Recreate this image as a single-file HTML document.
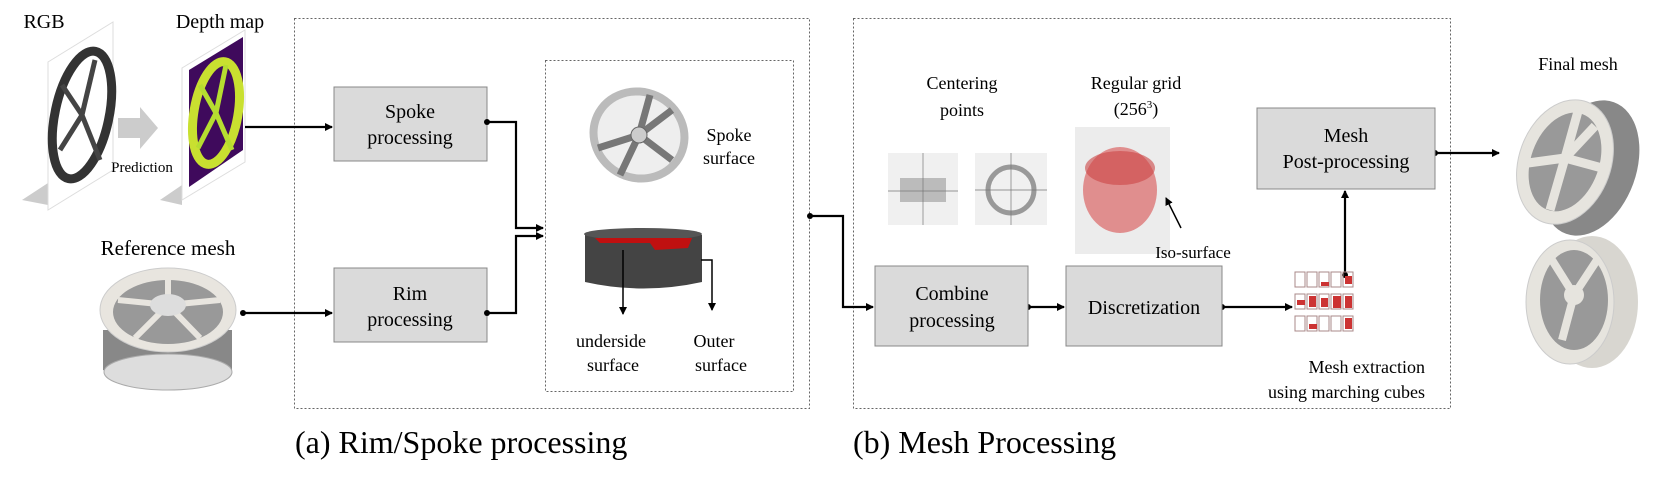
<!DOCTYPE html>
<html><head><meta charset="utf-8"><style>
html,body{margin:0;padding:0;background:#fff;}
svg{display:block;font-family:"Liberation Serif",serif;}
</style></head><body>
<svg width="1661" height="479" viewBox="0 0 1661 479" xmlns="http://www.w3.org/2000/svg">
<defs>
<marker id="ar" markerWidth="8" markerHeight="8" refX="7" refY="4" orient="auto" markerUnits="userSpaceOnUse"><path d="M0,0 L8,4 L0,8 z" fill="#000"/></marker>
</defs>
<!-- RGB panel -->
<text x="44" y="28" font-size="20" text-anchor="middle">RGB</text>
<polygon points="22,200 48,183 48,205" fill="#ccc"/>
<polygon points="48,62 113,22 113,170 48,210" fill="#fff" stroke="#ddd"/>
<ellipse cx="82" cy="115" rx="27" ry="65" fill="none" stroke="#333" stroke-width="9" transform="rotate(12 82 115)"/>
<g stroke="#444" stroke-width="5"><line x1="82" y1="115" x2="95" y2="60"/><line x1="82" y1="115" x2="60" y2="150"/><line x1="82" y1="115" x2="100" y2="160"/><line x1="82" y1="115" x2="62" y2="85"/></g>
<polygon points="118,118 140,118 140,107 158,128 140,149 140,138 118,138" fill="#ccc"/>
<text x="142" y="172" font-size="15" text-anchor="middle">Prediction</text>
<!-- depth panel -->
<text x="220" y="28" font-size="20" text-anchor="middle">Depth map</text>
<polygon points="160,200 182,185 182,205" fill="#ccc"/>
<polygon points="182,68 245,30 245,162 182,200" fill="#fff" stroke="#ddd"/>
<polygon points="189,70 243,37 243,150 189,187" fill="#3f0a5c"/>
<ellipse cx="216" cy="113" rx="22" ry="52" fill="none" stroke="#c9e030" stroke-width="9" transform="rotate(10 216 113)"/>
<g stroke="#b6dd30" stroke-width="5"><line x1="216" y1="113" x2="226" y2="65"/><line x1="216" y1="113" x2="198" y2="148"/><line x1="216" y1="113" x2="232" y2="150"/><line x1="216" y1="113" x2="200" y2="85"/></g>
<!-- reference mesh -->
<text x="168" y="255" font-size="21" text-anchor="middle">Reference mesh</text>
<path d="M103,330 L103,370 Q168,400 232,370 L232,330 z" fill="#888"/>
<ellipse cx="168" cy="372" rx="64" ry="18" fill="#ddd" stroke="#aaa"/>
<ellipse cx="168" cy="310" rx="68" ry="42" fill="#e8e5df" stroke="#ccc"/>
<ellipse cx="168" cy="312" rx="55" ry="32" fill="#999"/>
<g stroke="#e8e5df" stroke-width="6"><line x1="168" y1="305" x2="168" y2="275"/><line x1="168" y1="305" x2="220" y2="300"/><line x1="168" y1="305" x2="118" y2="300"/><line x1="168" y1="305" x2="200" y2="338"/><line x1="168" y1="305" x2="135" y2="338"/></g>
<ellipse cx="168" cy="305" rx="18" ry="11" fill="#ddd"/>
<!-- box a -->
<rect x="294.5" y="18.5" width="515" height="390" fill="none" stroke="#666" stroke-dasharray="2,2"/>
<rect x="545.5" y="60.5" width="248" height="331" fill="none" stroke="#666" stroke-dasharray="2,2"/>
<rect x="334" y="87" width="153" height="74" fill="#dadada" stroke="#888"/>
<text x="410" y="118" font-size="20" text-anchor="middle">Spoke</text>
<text x="410" y="144" font-size="20" text-anchor="middle">processing</text>
<rect x="334" y="268" width="153" height="74" fill="#dadada" stroke="#888"/>
<text x="410" y="300" font-size="20" text-anchor="middle">Rim</text>
<text x="410" y="326" font-size="20" text-anchor="middle">processing</text>
<g stroke="#000" stroke-width="2.2" fill="none">
<line x1="245" y1="127" x2="332" y2="127" marker-end="url(#ar)"/>
<line x1="243" y1="313" x2="332" y2="313" marker-end="url(#ar)"/>
<polyline points="487,122 516,122 516,228 543,228" marker-end="url(#ar)"/>
<polyline points="487,313 516,313 516,236 543,236" marker-end="url(#ar)"/>
</g>
<circle cx="487" cy="122" r="3" fill="#000"/><circle cx="487" cy="313" r="3" fill="#000"/><circle cx="243" cy="313" r="3" fill="#000"/>
<!-- spoke surface -->
<ellipse cx="639" cy="135" rx="50" ry="47" fill="#bbb" transform="rotate(25 639 135)"/>
<ellipse cx="639" cy="135" rx="42" ry="39" fill="#eee" transform="rotate(25 639 135)"/>
<g stroke="#777" stroke-width="7"><line x1="639" y1="135" x2="650" y2="95"/><line x1="639" y1="135" x2="598" y2="148"/><line x1="639" y1="135" x2="672" y2="160"/><line x1="639" y1="135" x2="620" y2="175"/><line x1="639" y1="135" x2="672" y2="110"/></g>
<circle cx="639" cy="135" r="8" fill="#ccc" stroke="#666"/>
<text x="729" y="141" font-size="18" text-anchor="middle">Spoke</text>
<text x="729" y="164" font-size="18" text-anchor="middle">surface</text>
<path d="M585,235 L585,282 Q643,295 702,282 L702,235 z" fill="#444"/>
<ellipse cx="643" cy="234" rx="59" ry="6" fill="#555"/>
<path d="M595,238 L692,238 L688,248 L655,250 L650,243 L600,243 z" fill="#c01010"/>
<g stroke="#000" stroke-width="1.5" fill="none">
<line x1="623" y1="250" x2="623" y2="314" marker-end="url(#ar)"/>
<polyline points="701,260 712,260 712,310" marker-end="url(#ar)"/>
</g>
<text x="611" y="347" font-size="18" text-anchor="middle">underside</text>
<text x="613" y="371" font-size="18" text-anchor="middle">surface</text>
<text x="714" y="347" font-size="18" text-anchor="middle">Outer</text>
<text x="721" y="371" font-size="18" text-anchor="middle">surface</text>
<text x="295" y="453" font-size="32">(a) Rim/Spoke processing</text>
<!-- box b -->
<rect x="853.5" y="18.5" width="597" height="390" fill="none" stroke="#666" stroke-dasharray="2,2"/>
<g stroke="#000" stroke-width="2.2" fill="none">
<polyline points="810,216 843,216 843,307 873,307" marker-end="url(#ar)"/>
<line x1="1028" y1="307" x2="1064" y2="307" marker-end="url(#ar)"/>
<line x1="1222" y1="307" x2="1292" y2="307" marker-end="url(#ar)"/>
<line x1="1345" y1="275" x2="1345" y2="191" marker-end="url(#ar)"/>
<line x1="1435" y1="153" x2="1499" y2="153" marker-end="url(#ar)"/>
</g>
<circle cx="810" cy="216" r="3" fill="#000"/><circle cx="1028" cy="307" r="3" fill="#000"/><circle cx="1222" cy="307" r="3" fill="#000"/><circle cx="1345" cy="275" r="3" fill="#000"/><circle cx="1435" cy="153" r="3" fill="#000"/>
<rect x="875" y="266" width="153" height="80" fill="#dadada" stroke="#888"/>
<text x="952" y="300" font-size="20" text-anchor="middle">Combine</text>
<text x="952" y="327" font-size="20" text-anchor="middle">processing</text>
<rect x="1066" y="266" width="156" height="80" fill="#dadada" stroke="#888"/>
<text x="1144" y="314" font-size="20" text-anchor="middle">Discretization</text>
<rect x="1257" y="108" width="178" height="81" fill="#dadada" stroke="#888"/>
<text x="1346" y="142" font-size="20" text-anchor="middle">Mesh</text>
<text x="1346" y="168" font-size="20" text-anchor="middle">Post-processing</text>
<text x="962" y="89" font-size="18" text-anchor="middle">Centering</text>
<text x="962" y="116" font-size="18" text-anchor="middle">points</text>
<rect x="888" y="153" width="70" height="72" fill="#f0f0f0"/>
<rect x="900" y="178" width="46" height="24" fill="#bbb"/>
<line x1="888" y1="191" x2="958" y2="191" stroke="#777" stroke-width="0.7"/><line x1="923" y1="153" x2="923" y2="225" stroke="#777" stroke-width="0.7"/>
<rect x="975" y="153" width="72" height="72" fill="#f0f0f0"/>
<circle cx="1011" cy="190" r="23" fill="none" stroke="#999" stroke-width="5"/>
<line x1="975" y1="190" x2="1047" y2="190" stroke="#777" stroke-width="0.7"/><line x1="1011" y1="153" x2="1011" y2="225" stroke="#777" stroke-width="0.7"/>
<text x="1136" y="89" font-size="18" text-anchor="middle">Regular grid</text>
<text x="1136" y="115" font-size="18" text-anchor="middle">(256<tspan font-size="11" dy="-7">3</tspan><tspan dy="7">)</tspan></text>
<rect x="1075" y="127" width="95" height="127" fill="#ececec"/>
<ellipse cx="1120" cy="190" rx="37" ry="43" fill="#d77" opacity="0.8"/>
<ellipse cx="1120" cy="168" rx="35" ry="17" fill="#c44" opacity="0.6"/>
<line x1="1181" y1="228" x2="1166" y2="198" stroke="#000" stroke-width="1.5" marker-end="url(#ar)"/>
<text x="1193" y="258" font-size="17" text-anchor="middle">Iso-surface</text>
<g fill="none" stroke="#a88" stroke-width="1">
<rect x="1295" y="272" width="10" height="15"/><rect x="1307" y="272" width="10" height="15"/><rect x="1319" y="272" width="10" height="15"/><rect x="1331" y="272" width="10" height="15"/><rect x="1343" y="272" width="10" height="15"/>
<rect x="1295" y="294" width="10" height="15"/><rect x="1307" y="294" width="10" height="15"/><rect x="1319" y="294" width="10" height="15"/><rect x="1331" y="294" width="10" height="15"/><rect x="1343" y="294" width="10" height="15"/>
<rect x="1295" y="316" width="10" height="15"/><rect x="1307" y="316" width="10" height="15"/><rect x="1319" y="316" width="10" height="15"/><rect x="1331" y="316" width="10" height="15"/><rect x="1343" y="316" width="10" height="15"/>
</g>
<g fill="#c33"><rect x="1321" y="282" width="8" height="4"/><rect x="1345" y="276" width="7" height="8"/><rect x="1297" y="300" width="8" height="5"/><rect x="1309" y="296" width="7" height="11"/><rect x="1333" y="296" width="8" height="12"/><rect x="1345" y="296" width="7" height="12"/><rect x="1321" y="298" width="7" height="9"/><rect x="1309" y="324" width="8" height="5"/><rect x="1345" y="318" width="7" height="11"/></g>
<text x="1425" y="373" font-size="18" text-anchor="end">Mesh extraction</text>
<text x="1425" y="398" font-size="18" text-anchor="end">using marching cubes</text>
<text x="853" y="453" font-size="32">(b) Mesh Processing</text>
<!-- final mesh -->
<text x="1578" y="70" font-size="18" text-anchor="middle">Final mesh</text>
<ellipse cx="1590" cy="168" rx="46" ry="70" fill="#888" transform="rotate(20 1590 168)"/>
<ellipse cx="1565" cy="162" rx="46" ry="64" fill="#e6e4de" stroke="#ccc" transform="rotate(20 1565 162)"/>
<ellipse cx="1565" cy="162" rx="34" ry="51" fill="#999" transform="rotate(20 1565 162)"/>
<g stroke="#e6e4de" stroke-width="9"><line x1="1565" y1="158" x2="1580" y2="104"/><line x1="1565" y1="158" x2="1528" y2="163"/><line x1="1565" y1="158" x2="1602" y2="168"/><line x1="1565" y1="158" x2="1550" y2="210"/><line x1="1565" y1="158" x2="1595" y2="126"/></g>
<ellipse cx="1592" cy="302" rx="46" ry="66" fill="#d8d6d0"/>
<ellipse cx="1570" cy="302" rx="44" ry="62" fill="#e6e4de" stroke="#ccc"/>
<ellipse cx="1574" cy="300" rx="34" ry="50" fill="#999"/>
<g stroke="#e6e4de" stroke-width="8"><line x1="1574" y1="295" x2="1597" y2="260"/><line x1="1574" y1="295" x2="1552" y2="260"/><line x1="1574" y1="295" x2="1562" y2="340"/></g>
<circle cx="1574" cy="295" r="10" fill="#e6e4de"/>
</svg>
</body></html>
